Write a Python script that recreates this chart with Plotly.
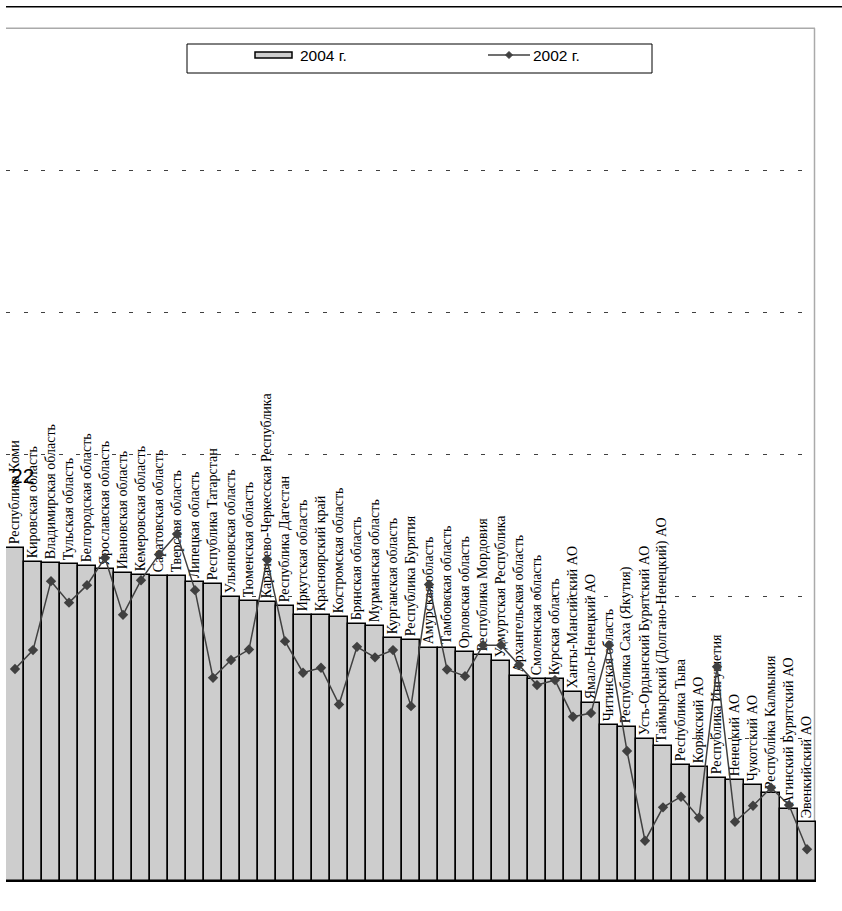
import plotly.graph_objects as go

# ---------------- data ----------------
regions = [
    "Республика Коми", "Кировская область", "Владимирская область", "Тульская область",
    "Белгородская область", "Ярославская область", "Ивановская область", "Кемеровская область",
    "Саратовская область", "Тверская область", "Липецкая область", "Республика Татарстан",
    "Ульяновская область", "Тюменская область", "Карачаево-Черкесская Республика",
    "Республика Дагестан", "Иркутская область", "Красноярский край", "Костромская область",
    "Брянская область", "Мурманская область", "Курганская область", "Республика Бурятия",
    "Амурская область", "Тамбовская область", "Орловская область", "Республика Мордовия",
    "Удмуртская Республика", "Архангельская область", "Смоленская область", "Курская область",
    "Ханты-Мансийский АО", "Ямало-Ненецкий АО", "Читинская область",
    "Республика Саха (Якутия)", "Усть-Ордынский Бурятский АО",
    "Таймырский (Долгано-Ненецкий) АО", "Республика Тыва", "Корякский АО",
    "Республика Ингушетия", "Ненецкий АО", "Чукотский АО", "Республика Калмыкия",
    "Агинский Бурятский АО", "Эвенкийский АО",
]

values_2004 = [
    23.39, 22.41, 22.38, 22.27, 22.15, 21.92, 21.63, 21.54, 21.42, 21.42,
    21.04, 20.90, 19.95, 19.67, 19.60, 19.34, 18.70, 18.70, 18.58, 18.07,
    17.95, 17.11, 16.97, 16.36, 16.36, 16.12, 15.89, 15.49, 14.41, 14.18,
    14.18, 13.31, 12.55, 10.97, 10.85, 9.96, 9.49, 8.13, 8.04, 7.26,
    7.10, 6.75, 6.21, 5.06, 4.17,
]

values_2002 = [
    14.91, 16.24, 21.09, 19.58, 20.81, 22.73, 18.72, 21.16, 22.97, 24.40,
    20.46, 14.29, 15.54, 16.28, 22.62, 16.87, 14.65, 15.00, 12.42, 16.47,
    15.73, 16.24, 12.30, 20.86, 14.88, 14.41, 16.59, 16.59, 15.19, 13.78,
    14.13, 11.55, 11.81, 16.59, 9.14, 2.83, 5.18, 5.93, 4.45, 15.07,
    4.17, 5.29, 6.56, 5.34, 2.23,
]

series_names = ["2004 г.", "2002 г."]
page_number = "22"

# ---------------- layout geometry ----------------
W, H = 842, 911
ML, MR, MT, MB = 6, 26, 28, 30
PW = W - ML - MR
PH = H - MT - MB


def px_x(px):
    return (px - ML) / PW


def px_y(py):
    return (H - MB - py) / PH


BAR_FILL = "#cdcdcd"
DARK = "#404040"

fig = go.Figure()

fig.add_trace(go.Bar(
    x=regions, y=values_2004, name=series_names[0],
    marker=dict(color=BAR_FILL, line=dict(color="black", width=1.5)),
    text=regions, textposition="outside", textangle=-90,
    textfont=dict(family="Liberation Serif, Times New Roman, serif", size=14, color="black"),
    cliponaxis=False, constraintext="none", showlegend=False,
    hoverinfo="x+y",
))

fig.add_trace(go.Scatter(
    x=regions, y=values_2002, name=series_names[1], mode="lines+markers",
    line=dict(color=DARK, width=1.5),
    marker=dict(symbol="diamond", size=8, color=DARK),
    cliponaxis=False, showlegend=False,
))

shapes = [
    # top black rule
    dict(type="line", xref="paper", yref="paper", x0=px_x(6), x1=px_x(842),
         y0=px_y(6.7), y1=px_y(6.7), line=dict(color="black", width=1.5)),
    # gray frame (top and right)
    dict(type="line", xref="paper", yref="paper", x0=px_x(6), x1=px_x(815),
         y0=px_y(28.3), y1=px_y(28.3), line=dict(color="#aaaaaa", width=1.5)),
    dict(type="line", xref="paper", yref="paper", x0=px_x(814.5), x1=px_x(814.5),
         y0=px_y(28.3), y1=px_y(880), line=dict(color="#aaaaaa", width=1.5), layer="below"),
    # legend box
    dict(type="rect", xref="paper", yref="paper", x0=px_x(187), x1=px_x(652),
         y0=px_y(73), y1=px_y(44), line=dict(color="black", width=1), fillcolor="white"),
    # legend bar swatch
    dict(type="rect", xref="paper", yref="paper", x0=px_x(255), x1=px_x(292),
         y0=px_y(58), y1=px_y(52), line=dict(color="black", width=1.5), fillcolor=BAR_FILL),
    # legend line swatch
    dict(type="line", xref="paper", yref="paper", x0=px_x(488), x1=px_x(530),
         y0=px_y(55), y1=px_y(55), line=dict(color=DARK, width=1.5)),
]

# legend diamond
cx, cy, r = 509, 55, 3.5
diamond = "M {} {} L {} {} L {} {} L {} {} Z".format(
    px_x(cx - r), px_y(cy), px_x(cx), px_y(cy - r), px_x(cx + r), px_y(cy), px_x(cx), px_y(cy + r))
shapes.append(dict(type="path", xref="paper", yref="paper", path=diamond,
                   fillcolor=DARK, line=dict(color=DARK, width=1)))

annotations = [
    dict(text=series_names[0], xref="paper", yref="paper", x=px_x(298), y=px_y(55.5),
         xanchor="left", yanchor="middle", showarrow=False,
         font=dict(family="Liberation Sans, Arial, sans-serif", size=15.5, color="black")),
    dict(text=series_names[1], xref="paper", yref="paper", x=px_x(531), y=px_y(55.5),
         xanchor="left", yanchor="middle", showarrow=False,
         font=dict(family="Liberation Sans, Arial, sans-serif", size=15.5, color="black")),
    dict(text=page_number, xref="paper", yref="paper", x=px_x(22), y=px_y(475),
         xanchor="center", yanchor="middle", showarrow=False,
         font=dict(family="Liberation Sans, Arial, sans-serif", size=21, color="black")),
]

fig.update_layout(
    width=W, height=H,
    margin=dict(l=ML, r=MR, t=MT, b=MB, pad=0),
    paper_bgcolor="white", plot_bgcolor="white",
    bargap=0, showlegend=False,
    shapes=shapes, annotations=annotations,
    xaxis=dict(showticklabels=False, ticks="", showgrid=False, zeroline=False,
               range=[-0.5, len(regions) - 0.5], autorange=False,
               showline=True, linecolor="black", linewidth=1),
    yaxis=dict(range=[0, 60], dtick=10, showticklabels=False, ticks="",
               showgrid=True, gridcolor=DARK, gridwidth=1, griddash="4px,13.6px",
               zeroline=False, showline=False),
)

fig.write_html("out.html", config={"displayModeBar": False},
               post_script="document.body.style.margin='0';")
